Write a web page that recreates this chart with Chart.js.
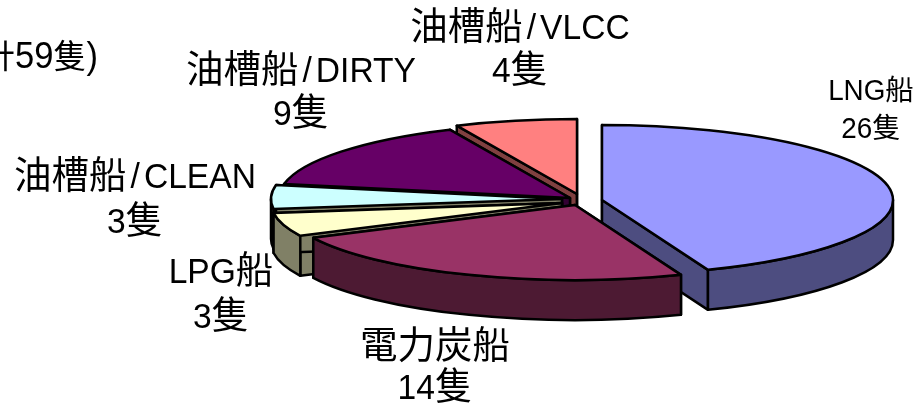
<!DOCTYPE html>
<html lang="zh-Hant">
<head>
  <meta charset="UTF-8">
  <title>船種別 隻數</title>
  <script src="https://cdn.jsdelivr.net/npm/chart.js"></script>
  <style>
    html, body { margin: 0; padding: 0; background: #fff; }
    canvas { display: block; }
  </style>
</head>
<body>
  <canvas id="shipChart" width="915" height="408"></canvas>
  <script>
    // data, clockwise from 12 o'clock
    const categories = ['LNG船', '電力炭船', 'LPG船', '油槽船/CLEAN', '油槽船/DIRTY', '油槽船/VLCC'];
    const shipCounts = [26, 14, 3, 3, 9, 4];
    const countUnit = '隻';
    const titleTail = '計59隻)';

    // look of each slice
    const topColors = ['#9999FF', '#993366', '#FFFFCC', '#CCFFFF', '#660066', '#FF8080'];
    const sideColors = ['#4D4D80', '#4D1A33', '#808066', '#808066', '#330033', '#804040'];
    const apexX = [602, 575, 562, 562, 570, 577];
    const apexY = [200, 205, 203, 199, 198, 194];
    const labelX = [871, 435, 221, 135, 301, 520];
    const labelY = [100, 358, 283, 188, 82, 39];
    const labelGap = [38, 41, 45, 45, 43, 43];
    const labelSize = [29, 35, 35, 35, 35, 35];
    const cjkSize = [28.5, 37.5, 37.5, 37.5, 37.5, 37.5];
    const paintOrder = [5, 4, 3, 2, 0, 1];   // back to front
    const RX = 291, RY = 75, DEPTH = 40;
    const LATIN_SQUEEZE = 0.96;

    // Latin is a bit narrow in the original, CJK is not, the slash sits loose
    function drawMixed(ctx, text, cx, y, size, cjk, align) {
      const runs = text.match(/\/|[\x00-\x7F]+|[^\x00-\x7F]+/g).filter(r => r);
      const latinFont = size + 'px "Liberation Sans"';
      const cjkFont = cjk + 'px "Noto Sans CJK TC"';
      const isLatin = r => r.charCodeAt(0) < 128;
      const widths = runs.map(r => {
        ctx.font = isLatin(r) ? latinFont : cjkFont;
        const w = ctx.measureText(r).width * (isLatin(r) ? LATIN_SQUEEZE : 1);
        return r === '/' ? w + 8 : w;
      });
      const total = widths.reduce((a, b) => a + b, 0);
      let x = align === 'right' ? cx - total : cx - total / 2;
      ctx.fillStyle = '#000';
      ctx.textAlign = 'left';
      ctx.textBaseline = 'alphabetic';
      runs.forEach((r, i) => {
        ctx.font = isLatin(r) ? latinFont : cjkFont;
        ctx.save();
        ctx.translate(r === '/' ? x + 4 : x, y);
        ctx.scale(isLatin(r) ? LATIN_SQUEEZE : 1, 1);
        ctx.fillText(r, 0, 0);
        ctx.restore();
        x += widths[i];
      });
    }

    function drawSlice(ctx, i, start, end) {
      const cx = apexX[i], cy = apexY[i];
      ctx.lineWidth = 2.5;
      ctx.lineJoin = 'round';
      ctx.strokeStyle = '#000';

      // cut faces
      ctx.fillStyle = sideColors[i];
      [start, end].forEach(a => {
        const ex = cx + RX * Math.cos(a), ey = cy + RY * Math.sin(a);
        ctx.beginPath();
        ctx.moveTo(cx, cy);
        ctx.lineTo(ex, ey);
        ctx.lineTo(ex, ey + DEPTH);
        ctx.lineTo(cx, cy + DEPTH);
        ctx.closePath();
        ctx.fill();
        ctx.stroke();
      });

      // rim, only the part facing the viewer (canvas angle 0..PI)
      const TAU = Math.PI * 2;
      [0, TAU].forEach(shift => {
        const t0 = Math.max(start, shift), t1 = Math.min(end, shift + Math.PI);
        if (t1 <= t0) return;
        ctx.beginPath();
        ctx.ellipse(cx, cy, RX, RY, 0, t0, t1);
        ctx.ellipse(cx, cy + DEPTH, RX, RY, 0, t1, t0, true);
        ctx.closePath();
        ctx.fill();
        ctx.stroke();
      });

      // top
      ctx.fillStyle = topColors[i];
      ctx.beginPath();
      ctx.moveTo(cx, cy);
      ctx.ellipse(cx, cy, RX, RY, 0, start, end);
      ctx.closePath();
      ctx.fill();
      ctx.stroke();
    }

    // chart.js works out the angles, this paints them as a tilted pie
    const tiltedPie = {
      id: 'tiltedPie',
      beforeDatasetDraw(chart, args) {
        const ctx = chart.ctx;
        const arcs = args.meta.data;
        ctx.save();
        paintOrder.forEach(i => {
          let a0 = arcs[i].startAngle, a1 = arcs[i].endAngle;
          while (a0 < 0) { a0 += Math.PI * 2; a1 += Math.PI * 2; }
          drawSlice(ctx, i, a0, a1);
        });
        ctx.restore();
        return false;
      },
      afterDraw(chart) {
        const ctx = chart.ctx;
        ctx.save();
        categories.forEach((name, i) => {
          drawMixed(ctx, name, labelX[i], labelY[i], labelSize[i], cjkSize[i]);
          drawMixed(ctx, shipCounts[i] + countUnit, labelX[i], labelY[i] + labelGap[i], labelSize[i], cjkSize[i]);
        });
        drawMixed(ctx, titleTail, 98, 68, 36, 33, 'right');
        ctx.restore();
      }
    };

    new Chart(document.getElementById('shipChart').getContext('2d'), {
      type: 'pie',
      data: {
        labels: categories,
        datasets: [{ data: shipCounts, backgroundColor: topColors }]
      },
      options: {
        responsive: false,
        animation: false,
        events: [],
        plugins: { legend: { display: false }, tooltip: { enabled: false } }
      },
      plugins: [tiltedPie]
    });
  </script>
</body>
</html>
